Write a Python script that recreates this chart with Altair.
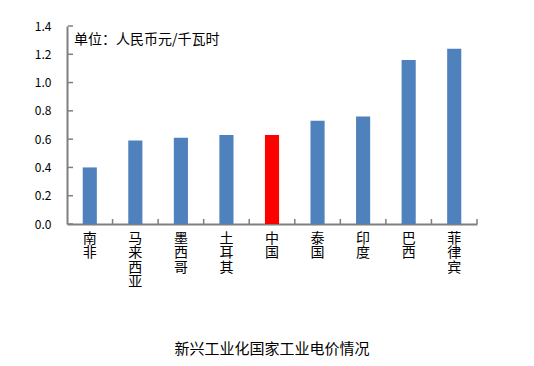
import altair as alt
import pandas as pd

countries = ["南非", "马来西亚", "墨西哥", "土耳其", "中国", "泰国", "印度", "巴西", "菲律宾"]
prices = [0.40, 0.59, 0.61, 0.63, 0.63, 0.73, 0.76, 1.16, 1.24]
y_ticks = [0.0, 0.2, 0.4, 0.6, 0.8, 1.0, 1.2, 1.4]
unit_label = "单位：人民币元/千瓦时"
title_text = "新兴工业化国家工业电价情况"

FONT = "Noto Sans CJK SC"
W, H = 410, 198
AXIS_GRAY = "#7f7f7f"

df = pd.DataFrame({"country": countries, "price": prices})
ticks_df = pd.DataFrame({"v": y_ticks})
note_df = pd.DataFrame({"t": [unit_label]})

xscale = alt.Scale(domain=countries, paddingInner=0, paddingOuter=0)
yscale = alt.Scale(domain=[0, 1.4], nice=False)

x_axis = alt.Axis(labelAngle=0, labelExpr="split(datum.label, '')",
                  labelBaseline="top", labelLineHeight=14.5, labelFontSize=14,
                  labelFont=FONT, labelColor="#000000", labelPadding=7,
                  labelOverlap=False, ticks=False, domainColor=AXIS_GRAY, domainWidth=2)
y_axis = alt.Axis(values=y_ticks, format=".1f", grid=False, ticks=False,
                  labelFontSize=12, labelFont=FONT, labelColor="#000000",
                  labelOverlap=False, labelPadding=16,
                  domainColor=AXIS_GRAY, domainWidth=2)

bars = alt.Chart(df).mark_bar(width=alt.RelativeBandSize(0.31)).encode(
    x=alt.X("country:N", sort=countries, scale=xscale, title=None, axis=x_axis),
    y=alt.Y("price:Q", scale=yscale, title=None, axis=y_axis),
    color=alt.condition(alt.datum.country == "中国", alt.value("#FF0000"), alt.value("#4F81BD")),
)

xticks = alt.Chart(df).mark_rule(color=AXIS_GRAY, strokeWidth=1.5).encode(
    x=alt.X("country:N", sort=countries, scale=xscale, bandPosition=1, title=None, axis=x_axis),
    y=alt.value(H - 5), y2=alt.value(H),
)

yticks = alt.Chart(ticks_df).mark_rule(color=AXIS_GRAY, strokeWidth=1.5).encode(
    y=alt.Y("v:Q", scale=yscale, title=None, axis=y_axis), x=alt.value(1), x2=alt.value(6),
)

note = alt.Chart(note_df).mark_text(align="left", baseline="middle", fontSize=14,
                                    font=FONT, color="#000000").encode(
    x=alt.value(7), y=alt.value(14), text="t:N"
)

chart = alt.layer(bars, xticks, yticks, note).properties(
    width=W, height=H,
    title=alt.TitleParams(title_text, orient="bottom", offset=53, fontSize=15,
                          font=FONT, fontWeight="normal", color="#000000", anchor="middle"),
    autosize=alt.AutoSizeParams(type="none"),
    padding={"left": 59, "top": 18, "right": 49, "bottom": 134},
).configure_view(stroke=None)

chart.save("out.html", embed_options={"renderer": "svg", "actions": False})
